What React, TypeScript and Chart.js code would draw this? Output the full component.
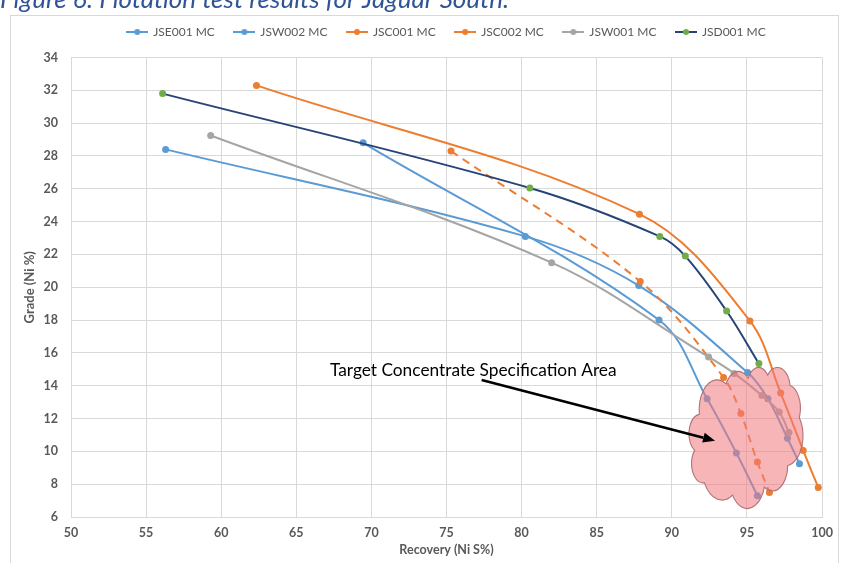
import React, { useEffect, useRef } from 'react';
import { Chart, registerables } from 'chart.js';

Chart.register(...registerables);

const FONT = 'Lato, "Open Sans", "DejaVu Sans", sans-serif';

// ---- data (Recovery Ni S% on x, Grade Ni % on y) ----
const seriesNames = ['JSE001 MC', 'JSW002 MC', 'JSC001 MC', 'JSC002 MC', 'JSW001 MC', 'JSD001 MC'];

const jse001Recovery = [56.3, 80.25, 87.8, 95.05, 96.4, 97.7, 98.5];
const jse001Grade = [28.4, 23.1, 20.1, 14.8, 13.2, 10.8, 9.25];

const jsw002Recovery = [69.45, 89.15, 92.35, 94.3, 95.7];
const jsw002Grade = [28.8, 18.0, 13.2, 9.9, 7.3];

const jsc001Recovery = [62.35, 87.85, 95.2, 97.25, 98.75, 99.75];
const jsc001Grade = [32.3, 24.45, 17.95, 13.55, 10.05, 7.8];

const jsc002Recovery = [75.3, 87.9, 93.45, 94.6, 95.7, 96.5];
const jsc002Grade = [28.3, 20.35, 14.5, 12.3, 9.35, 7.5];

const jsw001Recovery = [59.3, 82.0, 92.45, 94.15, 96.0, 97.15, 97.8];
const jsw001Grade = [29.25, 21.5, 15.75, 14.75, 13.4, 12.4, 11.15];

const jsd001Recovery = [56.1, 80.55, 89.2, 90.9, 93.65, 95.8];
const jsd001Grade = [31.8, 26.05, 23.1, 21.9, 18.55, 15.35];

const xMin = 50;
const xMax = 100;
const xStep = 5;
const yMin = 6;
const yMax = 34;
const yStep = 2;

const titleText = 'Figure 6: Flotation test results for Jaguar South.';
const xTitle = 'Recovery (Ni S%)';
const yTitle = 'Grade (Ni %)';
const annotationText = 'Target Concentrate Specification Area';

// annotation anchors in data units
const annotationTextAt = [67.24, 14.62];
const arrowFrom = [77.34, 14.35];
const arrowTo = [92.88, 10.65];
const cloudBox = [91.15, 15.14, 98.73, 6.55];

// ---- styles ----
const BLUE = '#5B9BD5';
const ORANGE = '#ED7D31';
const GRAY = '#A5A5A5';
const NAVY = '#264478';
const GREEN = '#70AD47';
const TEXT = '#595959';
const GRID = '#D9D9D9';

const CLOUD_START = [3900, 14370];
const CLOUD_ARCS = [
  [6753, 9190, -11429249, 7426832],
  [5333, 7267, -8646143, 5396714],
  [4365, 5945, -8748475, 5983381],
  [4857, 6595, -7859164, 7034504],
  [5333, 7273, -4722533, 6541615],
  [6775, 9220, -2776035, 7816140],
  [5785, 7867, 37501, 6842000],
  [6752, 9215, 1347096, 6910353],
  [7720, 10543, 3974558, 4542661],
  [4360, 5918, -16496525, 8804134],
  [4345, 5945, -14809710, 9151131],
];

function buildCloud(ctx: CanvasRenderingContext2D) {
  let px = CLOUD_START[0];
  let py = CLOUD_START[1];
  ctx.beginPath();
  ctx.moveTo(px, py);
  for (const [wr, hr, st, sw] of CLOUD_ARCS) {
    const stA = (st / 60000) * Math.PI / 180;
    const swA = (sw / 60000) * Math.PI / 180;
    const t1 = Math.atan2(wr * Math.sin(stA), hr * Math.cos(stA));
    const endA = stA + swA;
    let t2 = Math.atan2(wr * Math.sin(endA), hr * Math.cos(endA));
    if (swA > 0) {
      while (t2 < t1) t2 += Math.PI * 2;
    } else {
      while (t2 > t1) t2 -= Math.PI * 2;
    }
    const cx = px - wr * Math.cos(t1);
    const cy = py - hr * Math.sin(t1);
    ctx.ellipse(cx, cy, wr, hr, 0, t1, t2, swA < 0);
    px = cx + wr * Math.cos(t2);
    py = cy + hr * Math.sin(t2);
  }
  ctx.closePath();
}

function makeLegendIcon(line: string, marker: string) {
  const c = document.createElement('canvas');
  c.width = 22;
  c.height = 8;
  const g = c.getContext('2d') as CanvasRenderingContext2D;
  g.strokeStyle = line;
  g.lineWidth = 2;
  g.beginPath();
  g.moveTo(0, 4);
  g.lineTo(22, 4);
  g.stroke();
  g.fillStyle = marker;
  g.beginPath();
  g.arc(11, 4, 3, 0, Math.PI * 2);
  g.fill();
  return c;
}

const pts = (xs: number[], ys: number[]) => xs.map((x, i) => ({ x, y: ys[i] }));

export default function App() {
  const ref = useRef<HTMLCanvasElement | null>(null);

  useEffect(() => {
    if (!ref.current) return;

    const lineColors = [BLUE, BLUE, ORANGE, ORANGE, GRAY, NAVY];
    const markerColors = [BLUE, BLUE, ORANGE, ORANGE, GRAY, GREEN];
    const icons = lineColors.map((c, i) => makeLegendIcon(c, markerColors[i]));

    const seriesData = [
      pts(jse001Recovery, jse001Grade),
      pts(jsw002Recovery, jsw002Grade),
      pts(jsc001Recovery, jsc001Grade),
      pts(jsc002Recovery, jsc002Grade),
      pts(jsw001Recovery, jsw001Grade),
      pts(jsd001Recovery, jsd001Grade),
    ];

    const datasets = seriesData.map((data, i) => ({
      label: seriesNames[i],
      data,
      showLine: true,
      borderColor: lineColors[i],
      backgroundColor: markerColors[i],
      pointBackgroundColor: markerColors[i],
      pointBorderColor: markerColors[i],
      pointBorderWidth: 0,
      pointRadius: 3.5,
      borderWidth: 2,
      borderDash: i === 3 ? [8, 6] : [],
      tension: 0.35,
      order: 6 - i,
    }));

    const legendSpacer = {
      id: 'legendSpacer',
      beforeInit(chart: any) {
        if (!chart.legend) return;
        const orig = chart.legend.fit;
        chart.legend.fit = function () {
          orig.call(this);
          this.height += 9.5;
        };
      },
    };

    const overlay = {
      id: 'overlay',
      beforeDraw(chart: any) {
        const ctx = chart.ctx as CanvasRenderingContext2D;
        ctx.save();
        ctx.fillStyle = '#ffffff';
        ctx.fillRect(0, 0, chart.width, chart.height);
        ctx.strokeStyle = GRID;
        ctx.lineWidth = 1;
        ctx.strokeRect(10.5, 15.5, 828, 600);
        // page caption, partly cut off at top
        ctx.font = `italic 20px ${FONT}`;
        const pre = ctx.measureText('Figure 6: Flotation test results for Jaguar ').width;
        const size = 20 * 440 / pre;
        ctx.font = `italic ${size}px ${FONT}`;
        ctx.fillStyle = '#2F5597';
        ctx.textBaseline = 'alphabetic';
        ctx.textAlign = 'left';
        ctx.fillText(titleText, 0, 8);
        ctx.restore();
      },
      afterDatasetsDraw(chart: any) {
        const ctx = chart.ctx as CanvasRenderingContext2D;
        const xs = chart.scales.x;
        const ys = chart.scales.y;
        ctx.save();
        // cloud
        const x0 = xs.getPixelForValue(cloudBox[0]);
        const y0 = ys.getPixelForValue(cloudBox[1]);
        const x1 = xs.getPixelForValue(cloudBox[2]);
        const y1 = ys.getPixelForValue(cloudBox[3]);
        ctx.save();
        ctx.translate(x0, y0);
        ctx.scale((x1 - x0) / 43200, (y1 - y0) / 43200);
        buildCloud(ctx);
        ctx.restore();
        ctx.fillStyle = 'rgba(242,120,125,0.55)';
        ctx.fill();
        ctx.strokeStyle = '#B07274';
        ctx.lineWidth = 1.1;
        ctx.stroke();

        // arrow
        const ax = xs.getPixelForValue(arrowFrom[0]);
        const ay = ys.getPixelForValue(arrowFrom[1]);
        const bx = xs.getPixelForValue(arrowTo[0]);
        const by = ys.getPixelForValue(arrowTo[1]);
        const ang = Math.atan2(by - ay, bx - ax);
        const head = 12;
        const hw = 5;
        const cx = bx - head * Math.cos(ang);
        const cy = by - head * Math.sin(ang);
        ctx.strokeStyle = '#000';
        ctx.lineWidth = 2.5;
        ctx.beginPath();
        ctx.moveTo(ax, ay);
        ctx.lineTo(cx, cy);
        ctx.stroke();
        ctx.fillStyle = '#000';
        ctx.beginPath();
        ctx.moveTo(bx, by);
        ctx.lineTo(cx + hw * Math.sin(ang), cy - hw * Math.cos(ang));
        ctx.lineTo(cx - hw * Math.sin(ang), cy + hw * Math.cos(ang));
        ctx.closePath();
        ctx.fill();

        // annotation text
        ctx.font = `16px ${FONT}`;
        const w = ctx.measureText(annotationText).width;
        const fs = 16 * 287 / w;
        ctx.font = `${fs}px ${FONT}`;
        ctx.fillStyle = '#000';
        ctx.textAlign = 'left';
        ctx.textBaseline = 'alphabetic';
        ctx.fillText(
          annotationText,
          xs.getPixelForValue(annotationTextAt[0]),
          ys.getPixelForValue(annotationTextAt[1])
        );
        ctx.restore();
      },
    };

    const chart = new Chart(ref.current, {
      type: 'scatter',
      data: { datasets: datasets as any },
      options: {
        animation: false,
        responsive: true,
        maintainAspectRatio: false,
        layout: { padding: { left: 11, right: 29, top: 6.5, bottom: 0 } },
        plugins: {
          tooltip: { enabled: false },
          legend: {
            display: true,
            position: 'top',
            fullSize: false,
            labels: {
              usePointStyle: true,
              pointStyleWidth: 20,
              padding: 19.5,
              color: TEXT,
              font: { family: FONT, size: 12 },
              generateLabels: () =>
                seriesNames.map((name, i) => ({
                  text: name,
                  fillStyle: lineColors[i],
                  strokeStyle: lineColors[i],
                  lineWidth: 0,
                  pointStyle: icons[i] as any,
                  hidden: false,
                  datasetIndex: i,
                  fontColor: TEXT,
                })),
            },
          },
        },
        scales: {
          x: {
            type: 'linear',
            min: xMin,
            max: xMax,
            afterFit: (s: any) => {
              s.height = 46;
            },
            ticks: {
              stepSize: xStep,
              padding: 8.5,
              color: TEXT,
              font: { family: FONT, size: 12.5, weight: 'bold' },
            },
            grid: { color: GRID, drawTicks: false, lineWidth: 1 },
            border: { color: GRID },
            title: {
              display: true,
              text: xTitle,
              color: TEXT,
              font: { family: FONT, size: 12.5, weight: 'bold' },
              padding: { top: 0, bottom: 6 },
            },
          },
          y: {
            type: 'linear',
            min: yMin,
            max: yMax,
            afterFit: (s: any) => {
              s.width = 60;
            },
            ticks: {
              stepSize: yStep,
              padding: 13,
              color: TEXT,
              font: { family: FONT, size: 12.5, weight: 'bold' },
            },
            grid: { color: GRID, drawTicks: false, lineWidth: 1 },
            border: { color: GRID },
            title: {
              display: true,
              text: yTitle,
              color: TEXT,
              font: { family: FONT, size: 13, weight: 'bold' },
              padding: { top: 11.5, bottom: 0 },
            },
          },
        },
      },
      plugins: [legendSpacer, overlay],
    } as any);

    return () => {
      chart.destroy();
    };
  }, []);

  return (
    <div
      style={{
        position: 'absolute',
        left: 0,
        top: 0,
        width: 851,
        height: 563,
        overflow: 'hidden',
        background: '#ffffff',
      }}
    >
      <canvas ref={ref} />
    </div>
  );
}
